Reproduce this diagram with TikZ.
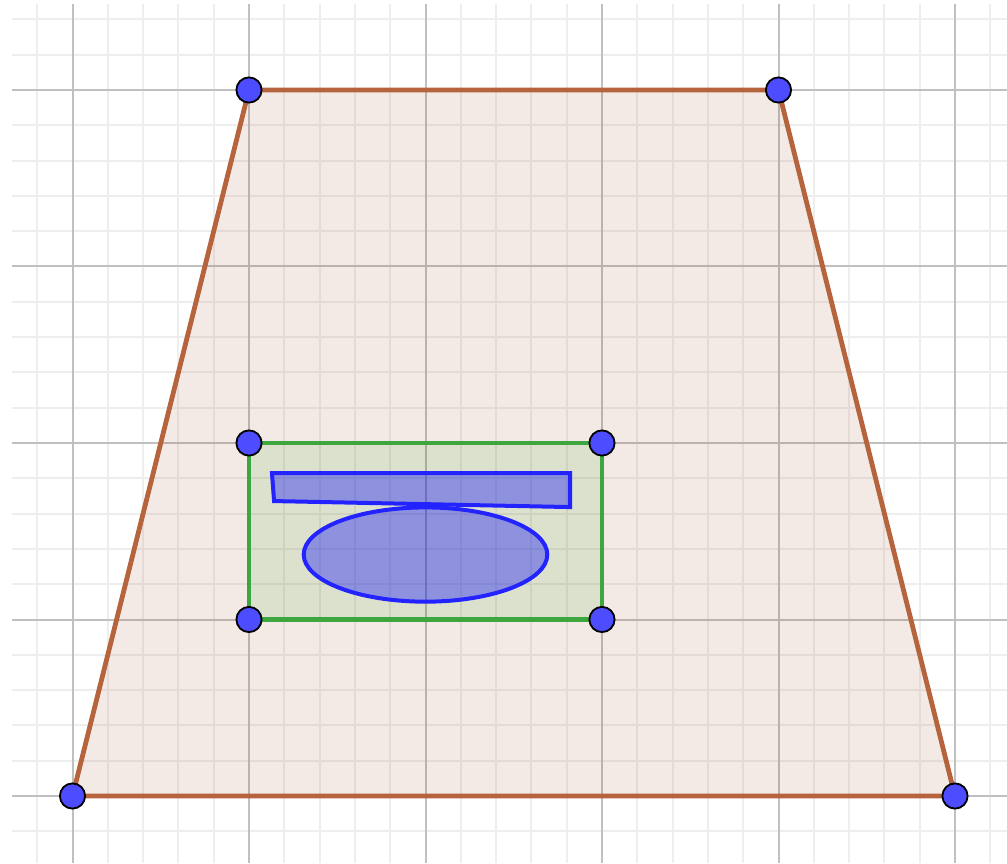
\documentclass[tikz,border=0pt]{standalone}
\definecolor{majorgrid}{RGB}{192,192,192}
\definecolor{minorgrid}{RGB}{238,238,238}
\definecolor{trapline}{RGB}{181,100,62}
\definecolor{trapfill}{RGB}{153,51,0}
\definecolor{greenline}{RGB}{62,166,62}
\definecolor{greenfill}{RGB}{0,153,0}
\definecolor{blueline}{RGB}{35,35,255}
\definecolor{bluefill}{RGB}{0,0,255}
\definecolor{ptfill}{RGB}{77,77,255}
\begin{document}
\begin{tikzpicture}[x=88.25pt,y=88.25pt,
  minorline/.style={draw=minorgrid,line width=1pt},
  majorline/.style={draw=majorgrid,line width=1pt},
  pt/.style={circle,draw=black,fill=ptfill,line width=0.9pt,minimum size=12.6pt,inner sep=0pt},
  trap/.style={draw=trapline,line width=2.4pt,fill=trapfill,fill opacity=0.1,line join=round},
  greenrect/.style={draw=greenline,line width=2.4pt,fill=greenfill,fill opacity=0.1},
  blueshape/.style={draw=blueline,line width=2pt,fill=bluefill,fill opacity=0.35}]
\useasboundingbox (-0.4108,-0.3796) rectangle (5.2946,4.5099);
\fill[white] (-0.4108,-0.3796) rectangle (5.2946,4.5099);
% minor grid
\foreach \i in {-1,1,2,3,4,6,7,8,9,11,12,13,14,16,17,18,19,21,22,23,24,26}
  \draw[minorline] (\i/5,-0.3796) -- (\i/5,4.4873);
\foreach \j in {-1,1,2,3,4,6,7,8,9,11,12,13,14,16,17,18,19,21,22}
  \draw[minorline] (-0.3456,\j/5) -- (5.2946,\j/5);
% major grid
\foreach \i in {0,...,5}
  \draw[majorline] (\i,-0.3796) -- (\i,4.4873);
\foreach \j in {0,...,4}
  \draw[majorline] (-0.3456,\j) -- (5.2946,\j);
% coordinates
\coordinate (A) at (0,0);
\coordinate (B) at (5,0);
\coordinate (C) at (4,4);
\coordinate (D) at (1,4);
\coordinate (E) at (1,1);
\coordinate (F) at (3,1);
\coordinate (G) at (3,2);
\coordinate (H) at (1,2);
\coordinate (P1) at (1.130,1.830);
\coordinate (P2) at (2.819,1.830);
\coordinate (P3) at (2.819,1.637);
\coordinate (P4) at (1.142,1.671);
\coordinate (O) at (2.0,1.368);
% shapes
\draw[trap] (A) -- (B) -- (C) -- (D) -- cycle;
\draw[greenrect] (E) -- (F) -- (G) -- (H) -- cycle;
\draw[blueshape] (P1) -- (P2) -- (P3) -- (P4) -- cycle;
\draw[blueshape] (O) ellipse [x radius=0.69, y radius=0.267];
% points
\foreach \p in {A,B,C,D,E,F,G,H}
  \node[pt] (n\p) at (\p) {};
\end{tikzpicture}
\end{document}
